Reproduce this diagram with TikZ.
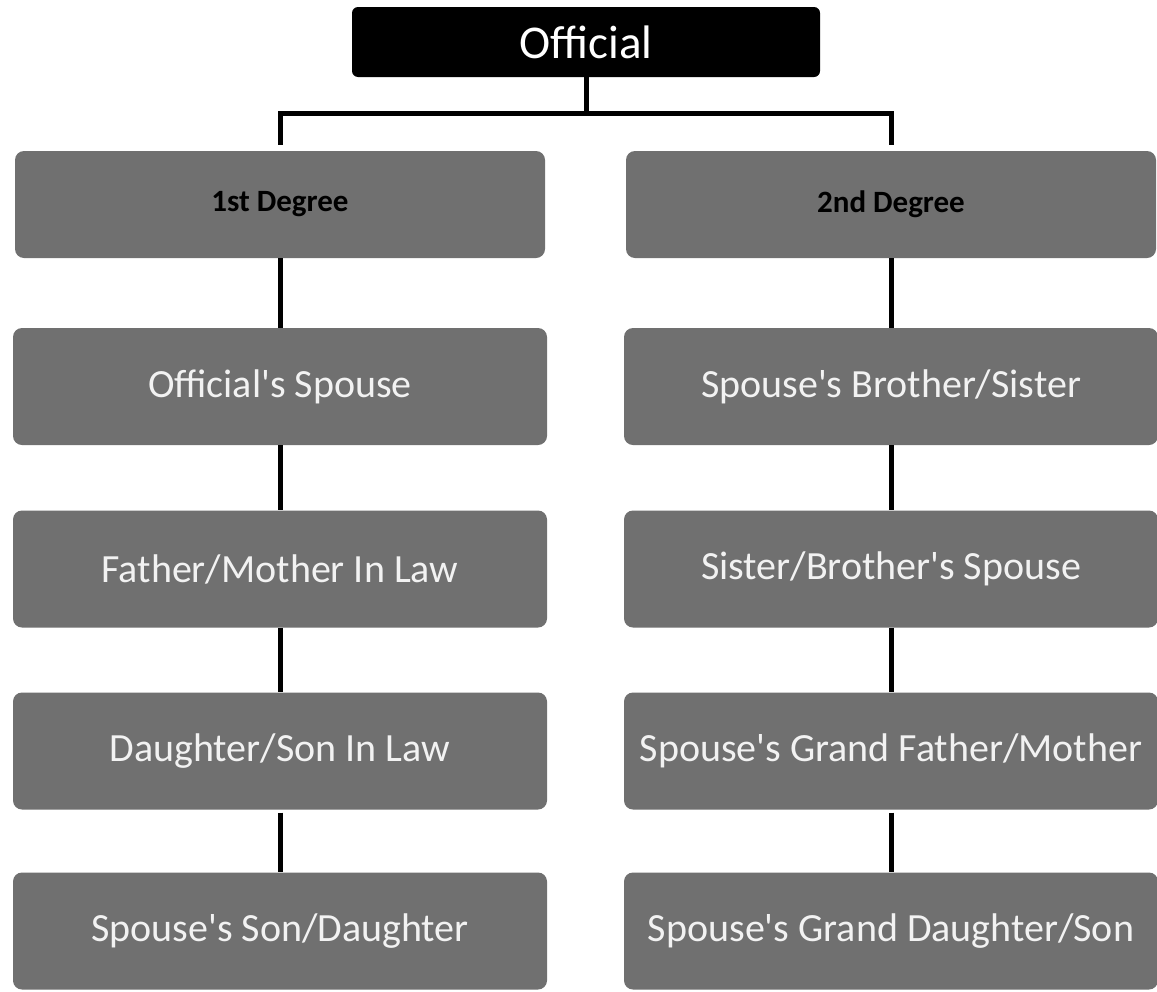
\documentclass[tikz,border=0pt]{standalone}
\usepackage{fontspec}
\setmainfont{Carlito}[Ligatures=TeXOff]
\definecolor{boxgray}{RGB}{112,112,112}
\definecolor{lighttext}{RGB}{242,242,242}
\tikzset{
  topbox/.style={fill=black, rounded corners=6pt, inner sep=0pt, text=white,
    font=\fontsize{47}{50}\selectfont, minimum width=468pt, minimum height=70pt},
  degbox/.style={fill=boxgray, rounded corners=9pt, inner sep=0pt, text=black,
    font=\fontsize{31}{34}\selectfont\bfseries, minimum width=530pt, minimum height=107pt},
  relbox/.style={fill=boxgray, rounded corners=9pt, inner sep=0pt, text=lighttext,
    font=\fontsize{40}{44}\selectfont, minimum width=534pt, minimum height=117pt},
  conn/.style={draw=black, line width=5pt}
}
\begin{document}
\begin{tikzpicture}[x=1pt,y=-1pt]
\useasboundingbox[fill=white] (0,0) rectangle (1157,991);
\node[topbox] (off) at (586,42) {Official};
\node[degbox] (d1) at (280,204.5) {1st Degree};
\node[degbox] (d2) at (891,204.5) {2nd Degree};
\node[relbox] (l1) at (280,386.5) {Official's Spouse};
\node[relbox] (l2) at (280,569) {Father/Mother In Law};
\node[relbox] (l3) at (280,751) {Daughter/Son In Law};
\node[relbox] (l4) at (280,931) {Spouse's Son/Daughter};
\node[relbox] (r1) at (891,386.5) {Spouse's Brother/Sister};
\node[relbox] (r2) at (891,569) {Sister/Brother's Spouse};
\node[relbox] (r3) at (891,751) {Spouse's Grand Father/Mother};
\node[relbox] (r4) at (891,931) {Spouse's Grand Daughter/Son};
\coordinate (hub) at (586,113);
\draw[conn] (off.south) -- (hub);
\draw[conn, shorten >=6pt] (hub) -| (d1.north);
\draw[conn, shorten >=6pt] (hub) -| (d2.north);
\draw[conn, shorten <=3pt] (d1) -- (l1) (l1) -- (l2) (l2) -- (l3) (l3) -- (l4);
\draw[conn, shorten <=3pt] (d2) -- (r1) (r1) -- (r2) (r2) -- (r3) (r3) -- (r4);
\end{tikzpicture}
\end{document}
